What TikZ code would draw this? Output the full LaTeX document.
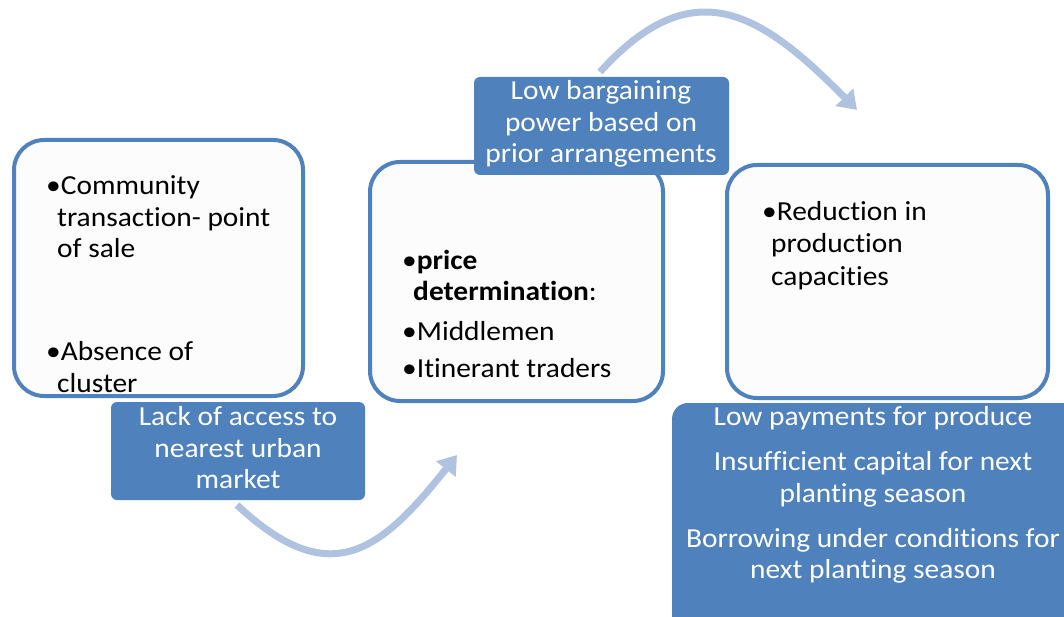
\documentclass[tikz,border=0pt]{standalone}
\usepackage{fontspec}
\setmainfont{Carlito}[Ligatures=NoCommon, FakeStretch=1.07]
\usetikzlibrary{arrows.meta}
\definecolor{accent}{HTML}{4F81BD}
\definecolor{arrowc}{HTML}{AFC3E0}
\definecolor{boxfill}{HTML}{FCFCFC}
\tikzset{
  frame/.style={draw=accent, line width=4pt, fill=boxfill, rounded corners=30pt, inner sep=0pt},
  tag/.style={fill=accent, rounded corners=6pt, inner sep=0pt},
  bigtag/.style={fill=accent, rounded corners=16pt, inner sep=0pt},
  txt/.style={font=\fontsize{27.5}{31.5}\selectfont, inner sep=0pt, anchor=base west, text=black},
  ltxt/.style={font=\fontsize{27.5}{31.5}\selectfont, inner sep=0pt, anchor=base, text=white},
  flow/.style={draw=arrowc, line width=7pt, -{Triangle[length=18pt,width=24pt]}},
}
\begin{document}
\begin{tikzpicture}[x=1pt,y=-1pt]
\useasboundingbox (0,0) rectangle (1064,617);
\clip (0,0) rectangle (1064,617);
% curved arrows
\coordinate (a1s) at (237,505);
\coordinate (a1e) at (457,455);
\coordinate (a2s) at (600,72);
\coordinate (a2e) at (857,110);
\draw[flow] (a1s) .. controls (330,592) and (380,552) .. (a1e);
\draw[flow] (a2s) .. controls (694,-32) and (762,14) .. (a2e);
% main boxes
\node[frame, minimum width=289pt, minimum height=256pt] (b1) at (158.5,268) {};
\node[frame, minimum width=293pt, minimum height=239pt] (b2) at (516.5,281.5) {};
\node[frame, minimum width=321pt, minimum height=233pt] (b3) at (887.5,281.5) {};
% labels
\node[tag, minimum width=254pt, minimum height=98pt] (t1) at (238,451) {};
\node[tag, minimum width=255pt, minimum height=98pt] (t2) at (601.5,126) {};
\node[bigtag, minimum width=418pt, minimum height=247pt] (t3) at (881,526.5) {};
% box 1 text
\node[txt] (b1a) at (46,195) {•Community};
\node[txt] (b1b) at (57,226.5) {transaction- point};
\node[txt] (b1c) at (57,258) {of sale};
\node[txt] (b1d) at (46,360) {•Absence of};
\node[txt] (b1e) at (57,392) {cluster};
% box 2 text
\node[txt] (b2a) at (402,270) {•\textbf{price}};
\node[txt] (b2b) at (413,301) {\textbf{determination}:};
\node[txt] (b2c) at (402,340) {•Middlemen};
\node[txt] (b2d) at (402,377) {•Itinerant traders};
% box 3 text
\node[txt] (b3a) at (762,221) {•Reduction in};
\node[txt] (b3b) at (771,253) {production};
\node[txt] (b3c) at (771,285) {capacities};
% label texts
\node[ltxt] (t1a) at (238,425) {Lack of access to};
\node[ltxt] (t1b) at (238,457) {nearest urban};
\node[ltxt] (t1c) at (238,488) {market};
\node[ltxt] (t2a) at (601,100) {Low bargaining};
\node[ltxt] (t2b) at (601,132) {power based on};
\node[ltxt] (t2c) at (601,163) {prior arrangements};
\node[ltxt] (t3a) at (873,425) {Low payments for produce};
\node[ltxt] (t3b) at (873,470) {Insufficient capital for next};
\node[ltxt] (t3c) at (873,502) {planting season};
\node[ltxt] (t3d) at (873,547) {Borrowing under conditions for};
\node[ltxt] (t3e) at (873,578) {next planting season};
\end{tikzpicture}
\end{document}
